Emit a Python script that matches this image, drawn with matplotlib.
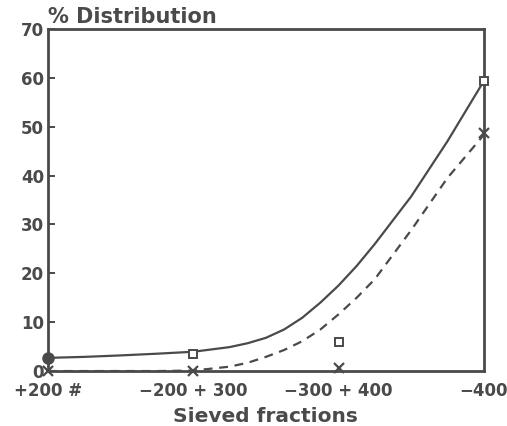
import matplotlib.pyplot as plt

fractions = ["+200 #", "\u2212200 + 300", "\u2212300 + 400", "\u2212400"]
squares = [2.7, 3.4, 5.9, 59.4]
crosses = [0.0, 0.0, 0.6, 48.7]

# smooth trend lines, values
curve_x = [0, 0.25, 0.5, 0.75, 1, 1.25, 1.375, 1.5, 1.625, 1.75, 1.875,
           2, 2.125, 2.25, 2.5, 2.75, 3]
solid_fit = [2.7, 2.9, 3.2, 3.55, 3.95, 4.9, 5.7, 6.8, 8.5, 10.9, 14.0,
             17.5, 21.5, 26.0, 35.7, 47.0, 59.3]
dashed_fit = [0.0, 0.0, 0.0, 0.0, 0.1, 0.9, 1.7, 2.9, 4.3, 6.1, 8.5,
              11.6, 15.0, 18.8, 28.8, 39.5, 48.3]

ink = "#4a4a4a"
plt.rcParams["font.family"] = "DejaVu Sans"
plt.rcParams["font.weight"] = "bold"
plt.rcParams["axes.labelweight"] = "bold"

fig = plt.figure(figsize=(5.07, 4.26), dpi=100)
ax = fig.add_axes([0.095, 0.129, 0.859, 0.803])

ax.plot(curve_x, solid_fit, color=ink, lw=1.6)
ax.plot(curve_x, dashed_fit, color=ink, lw=1.6, ls=(0, (4, 3)))

xs = list(range(len(fractions)))
ax.plot(xs[1:], squares[1:], ls="none", marker="s", ms=6, mfc="white",
        mec=ink, mew=1.4, clip_on=False, zorder=5)
ax.plot(xs[0], squares[0], ls="none", marker="o", ms=8, color=ink,
        clip_on=False, zorder=5)
ax.plot(xs, crosses, ls="none", marker="x", ms=7, mec=ink, mew=1.6,
        clip_on=False, zorder=5)

ax.set_xlim(0, 3)
ax.set_ylim(0, 70)
ax.set_yticks(range(0, 71, 10))
ax.set_xticks(xs)
ax.set_xticklabels(fractions)
ax.tick_params(axis="y", direction="in", length=5, width=1.4, color=ink,
               labelsize=12, labelcolor=ink, pad=3)
ax.tick_params(axis="x", length=0, labelsize=12, labelcolor=ink, pad=8)
for s in ax.spines.values():
    s.set_color(ink)
    s.set_linewidth(2)

ax.set_xlabel("Sieved fractions", fontsize=14.5, color=ink, labelpad=5)
ax.text(0.0, 1.005, "% Distribution", transform=ax.transAxes, fontsize=15,
        color=ink, ha="left", va="bottom")

fig.savefig("out.png", dpi=100)
